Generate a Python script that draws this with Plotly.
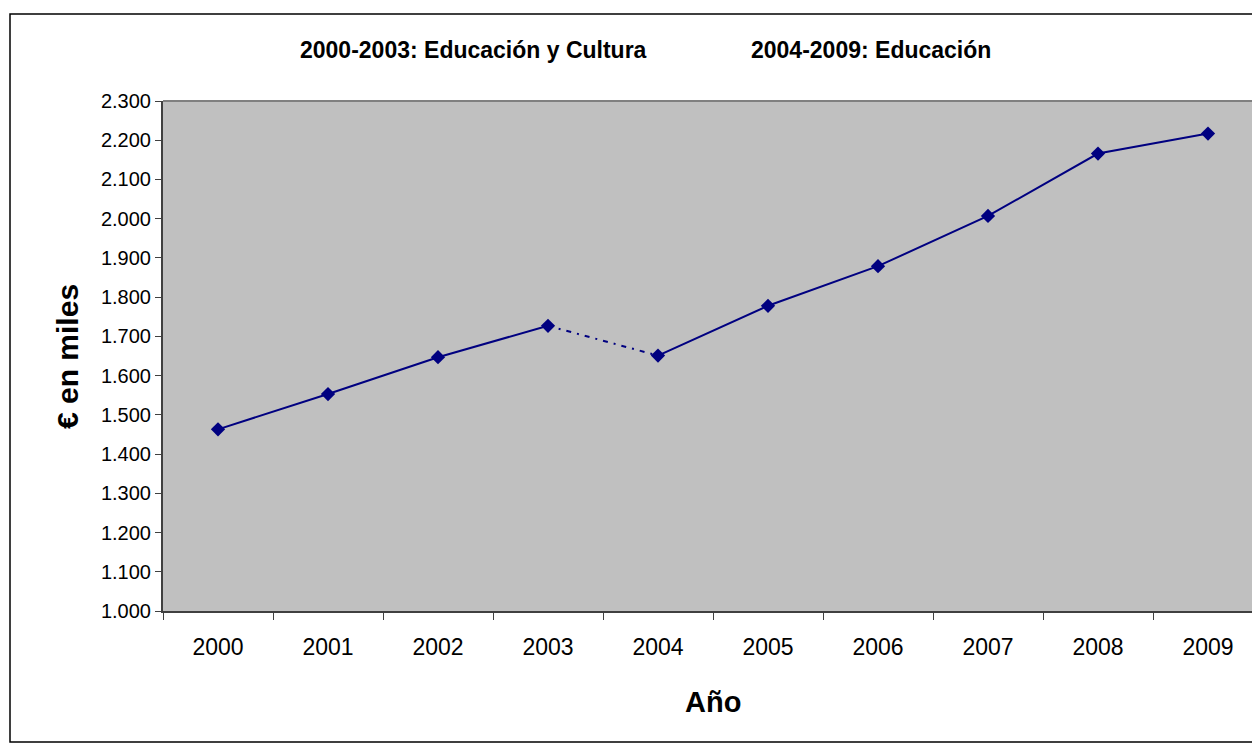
import plotly.graph_objects as go

# data
years = ['2000', '2001', '2002', '2003', '2004', '2005', '2006', '2007', '2008', '2009']
gasto = [1463, 1553, 1647, 1727, 1651, 1778, 1879, 2007, 2166, 2217]
y_ticks = list(range(1000, 2301, 100))
y_tick_text = ['{:,}'.format(v).replace(',', '.') for v in y_ticks]

navy = '#000080'
W, H = 1252, 743
L, T, B = 163, 101, 132
pw, ph = W - L, H - T - B

fig = go.Figure()

# 2000-2003 segment
fig.add_trace(go.Scatter(
    x=years[:4], y=gasto[:4], mode='lines+markers',
    line=dict(color=navy, width=2),
    marker=dict(symbol='diamond', size=11, color=navy),
    showlegend=False, hoverinfo='skip',
))
# change of department: dotted link
fig.add_trace(go.Scatter(
    x=years[3:5], y=gasto[3:5], mode='lines',
    line=dict(color=navy, width=2, dash='5px,6px,2px,6px'),
    showlegend=False, hoverinfo='skip',
))
# 2004-2009 segment
fig.add_trace(go.Scatter(
    x=years[4:], y=gasto[4:], mode='lines+markers',
    line=dict(color=navy, width=2),
    marker=dict(symbol='diamond', size=11, color=navy),
    showlegend=False, hoverinfo='skip',
))

def px(x):
    return (x - L) / pw

def py(y):
    return (H - B - y) / ph

shapes = [
    # outer chart frame
    dict(type='rect', xref='paper', yref='paper',
         x0=px(10), x1=px(1262), y0=py(742), y1=py(14),
         line=dict(color='black', width=1.5), layer='below'),
    # top edge of plot area
    dict(type='line', xref='paper', yref='paper',
         x0=0, x1=1, y0=1, y1=1, line=dict(color='#808080', width=2)),
]

def label(text, x, y, size, angle=0):
    return dict(text=text, x=px(x), y=py(y), xref='paper', yref='paper',
                xanchor='center', yanchor='middle', textangle=angle,
                showarrow=False,
                font=dict(family='Liberation Sans, Arial', size=size, color='black'))

annotations = [
    label('<b>2000-2003: Educación y Cultura</b>', 473, 50, 23),
    label('<b>2004-2009: Educación</b>', 871, 50, 23),
    label('<b>€ en miles</b>', 67, 357, 30, -90),
    label('<b>Año</b>', 713, 702, 29),
]

fig.update_layout(
    width=W, height=H,
    margin=dict(l=L, r=0, t=T, b=B),
    paper_bgcolor='white', plot_bgcolor='#C0C0C0',
    font=dict(family='Liberation Sans, Arial', size=20, color='black'),
    shapes=shapes, annotations=annotations,
    xaxis=dict(type='category', range=[-0.5, 9.4], tickson='boundaries',
               ticks='outside', ticklen=7, tickcolor='#404040',
               tickfont=dict(size=23), ticklabelstandoff=14,
               showline=True, linecolor='#404040', linewidth=2,
               showgrid=False, zeroline=False, fixedrange=True),
    yaxis=dict(range=[1000, 2300], tickvals=y_ticks, ticktext=y_tick_text,
               ticks='outside', ticklen=6, tickcolor='#404040',
               tickfont=dict(size=20),
               showline=True, linecolor='#404040', linewidth=2,
               showgrid=False, zeroline=False, fixedrange=True),
)

fig.write_html('out.html', config={'displayModeBar': False},
               post_script="document.body.style.margin='0';")
